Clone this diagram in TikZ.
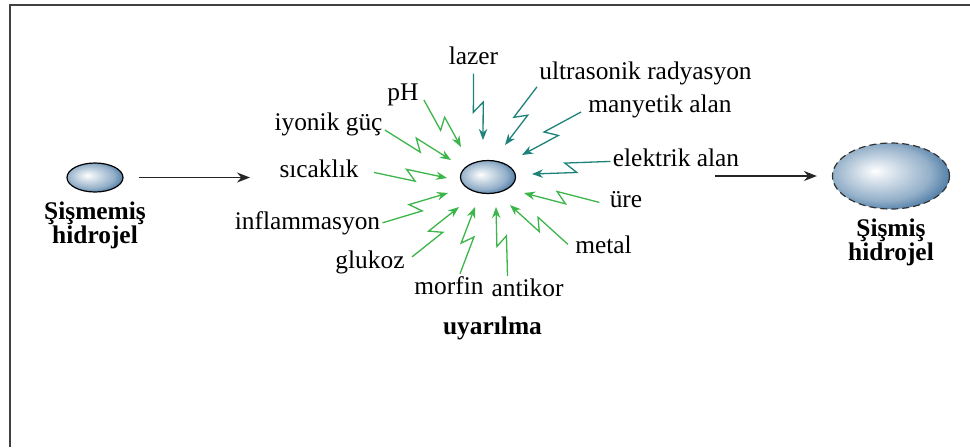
\documentclass[tikz,border=0pt]{standalone}
\usepackage{fontspec}
\setmainfont{Liberation Serif}
\usetikzlibrary{arrows.meta, positioning, calc, shapes.geometric}
\definecolor{hgblue}{HTML}{2F6596}
\definecolor{stimgreen}{HTML}{3CB54A}
\definecolor{stimteal}{HTML}{1E827A}

\pgfdeclareradialshading{hgball}{\pgfpoint{-7bp}{4bp}}{%
  color(0bp)=(white); color(3bp)=(white!92!hgblue);
  color(21bp)=(hgblue!52!white); color(32bp)=(hgblue); color(50bp)=(hgblue)}

\begin{document}
\begin{tikzpicture}[x=0.5pt, y=-0.5pt,
    lbl/.style={font=\fontsize{12.7}{15}\selectfont, inner sep=1pt, anchor=base},
    hglbl/.style={font=\fontsize{12.7}{12}\selectfont\bfseries, align=center, inner sep=1pt},
    ball/.style={ellipse, draw, line width=0.6pt, shading=hgball, inner sep=0pt},
    flow/.style={-{Stealth[length=6.5pt, width=5pt]}, line width=0.75pt, black!85},
    bolt/.style={-{Stealth[length=5.5pt, width=4.2pt]}, line width=0.65pt,
      to path={-- ($(\tikztostart)!.57!(\tikztotarget)!2.8pt!-90:(\tikztotarget)$)
               -- ($(\tikztostart)!.44!(\tikztotarget)!2.8pt!90:(\tikztotarget)$)
               -- (\tikztotarget) \tikztonodes}},
  ]
    \useasboundingbox (0,0) rectangle (970,447);
    \draw[black!75, line width=1pt] (10,447) -- (10,5) -- (970,5);

    % hydrogels
    \node[ball, minimum width=28pt, minimum height=14.5pt] (dry) at (95,177.5) {};
    \node[ball, minimum width=27.5pt, minimum height=16.5pt] (hg) at (488,177) {};
    \node[ball, dashed, dash pattern=on 3.5pt off 2pt, draw=black!80,
          minimum width=58.5pt, minimum height=33pt] (wet) at (891,176) {};
    \node[hglbl, below=3.5pt of dry] {Şişmemiş\\hidrojel};
    \node[hglbl, below=3.5pt of wet] {Şişmiş\\hidrojel};

    \coordinate (go) at (250,177.5);
    \coordinate (out) at (715,176);
    \draw[flow, shorten <=7.5pt] (dry) -- (go);
    \draw[flow, shorten >=7.5pt] (out) -- (wet);

    % stimuli
    \node[lbl] (lazer)    at (473.5,64)  {lazer};
    \node[lbl] (ultra)    at (645.5,79)  {ultrasonik radyasyon};
    \node[lbl] (manyetik) at (660,112)   {manyetik alan};
    \node[lbl] (elektrik) at (676,166)   {elektrik alan};
    \node[lbl] (ure)      at (626,207)   {üre};
    \node[lbl] (metal)    at (603.5,253) {metal};
    \node[lbl] (antikor)  at (527.5,296) {antikor};
    \node[lbl] (morfin)   at (449,294)   {morfin};
    \node[lbl] (glukoz)   at (370,268)   {glukoz};
    \node[lbl] (inflam)   at (307.5,229) {inflammasyon};
    \node[lbl] (sicak)    at (319,177)   {sıcaklık};
    \node[lbl] (iyonik)   at (328.5,130) {iyonik güç};
    \node[lbl] (ph)       at (403,100)   {pH};
    \node[lbl, font=\fontsize{12.7}{15}\selectfont\bfseries] (uyari) at (492.5,334) {uyarılma};

    \coordinate (lazerT)    at (483,140);
    \coordinate (ultraT)    at (505,145);
    \coordinate (manyetikT) at (522,155);
    \coordinate (elektrikT) at (532,174);
    \coordinate (ureT)      at (524,193);
    \coordinate (metalT)    at (510,205);
    \coordinate (antikorT)  at (496,207);
    \coordinate (morfinT)   at (475,207);
    \coordinate (glukozT)   at (459,207);
    \coordinate (inflamT)   at (448,193);
    \coordinate (sicakT)    at (447,178);
    \coordinate (iyonikT)   at (451,160);
    \coordinate (phT)       at (461,147);

    \draw[bolt, stimteal] ([yshift=-3.5pt]lazer.south) to (lazerT);
    \draw[bolt, stimteal] (ultra.south west) to (ultraT);
    \draw[bolt, stimteal] ([xshift=-2.5pt]manyetik.base west) to (manyetikT);
    \draw[bolt, stimteal] (elektrik.mid west) to (elektrikT);
    \draw[bolt, stimgreen] ([xshift=-4pt]ure.mid west) to (ureT);
    \draw[bolt, stimgreen] ([xshift=-2.5pt]metal.west) to (metalT);
    \draw[bolt, stimgreen] ([xshift=-10pt]antikor.north) to (antikorT);
    \draw[bolt, stimgreen] ([xshift=5.5pt]morfin.north) to (morfinT);
    \draw[bolt, stimgreen] ([xshift=2.5pt, yshift=2.5pt]glukoz.east) to (glukozT);
    \draw[bolt, stimgreen] (inflam.east) to (inflamT);
    \draw[bolt, stimgreen] ([xshift=6.5pt]sicak.mid east) to (sicakT);
    \draw[bolt, stimgreen] (iyonik.base east) to (iyonikT);
    \draw[bolt, stimgreen] ([xshift=1.5pt]ph.base east) to (phT);
\end{tikzpicture}
\end{document}
